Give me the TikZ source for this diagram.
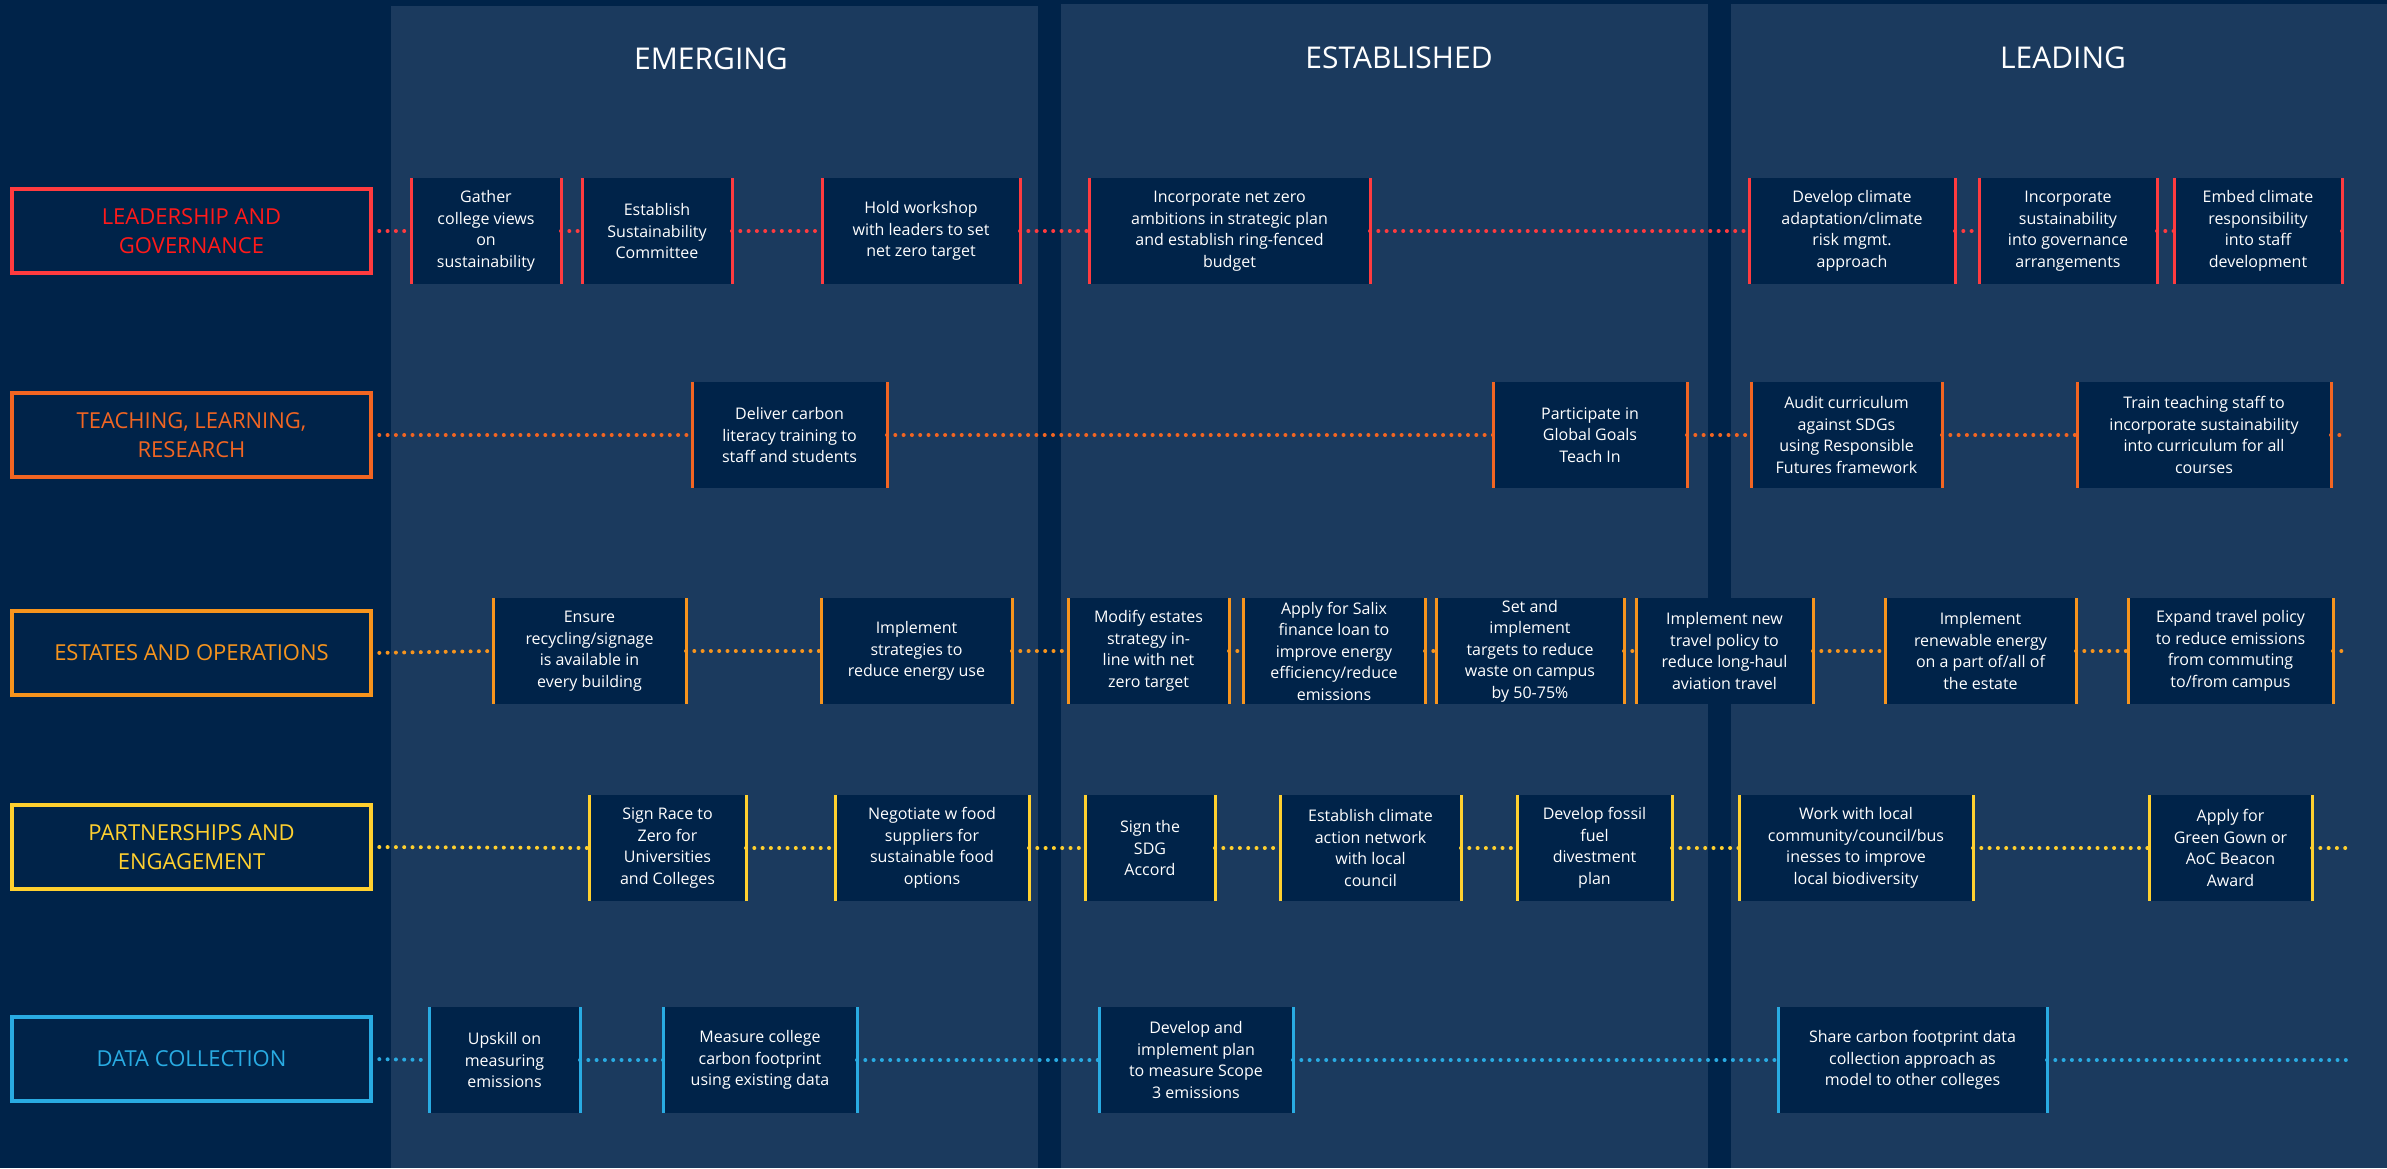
\documentclass[tikz,border=0pt]{standalone}
\usepackage{fontspec}
\setmainfont{Open Sans}
\definecolor{bg}{HTML}{002349}
\definecolor{panel}{HTML}{1B3A5E}
\definecolor{cLG}{HTML}{FF3B3F}
\definecolor{cLGt}{HTML}{FF1A1A}
\definecolor{cTL}{HTML}{F26522}
\definecolor{cEO}{HTML}{F7941D}
\definecolor{cPE}{HTML}{FFD02F}
\definecolor{cDC}{HTML}{29ABE2}
\tikzset{
  actbox/.style={fill=bg, text=white, inner sep=0pt, outer sep=0pt, minimum height=106,
    align=center, font=\fontsize{16}{21.5}\selectfont},
  sideedge/.style={line width=3pt},
  catbox/.style={draw=#1, line width=3.5pt, fill=bg, inner sep=0pt, outer sep=0pt,
    minimum width=359, minimum height=84, align=center, font=\fontsize{22}{29}\selectfont},
  dotcon/.style={#1, line width=4pt, line cap=round, dash pattern=on 0pt off 8.3pt},
  colhead/.style={text=white, font=\fontsize{30}{36}\selectfont},
}
\newcommand\abox[6]{%
  \node[actbox, minimum width={#3-#2}] (#1) at ({(#2+#3)/2},#4) {#6};
  \draw[#5, sideedge] (#1.north west) -- (#1.south west) (#1.north east) -- (#1.south east);
}
\begin{document}
\begin{tikzpicture}[x=1pt,y=-1pt]
\fill[bg] (0,0) rectangle (2387,1168);
\useasboundingbox (0,0) rectangle (2387,1168);
% column panels
\fill[panel] (391,6) rectangle (1038,1168);
\fill[panel] (1061,4) rectangle (1708,1168);
\fill[panel] (1731,4) rectangle (2387,1168);
\node[colhead] (hEm) at (711,59) {EMERGING};
\node[colhead] (hEs) at (1399,58) {ESTABLISHED};
\node[colhead] (hLe) at (2063,58) {LEADING};

% category boxes
\node[catbox=cLG, text=cLGt] (L1) at (191.5,231) {LEADERSHIP AND\\GOVERNANCE};
\node[catbox=cTL, text=cTL] (L2) at (191.5,435) {TEACHING, LEARNING,\\RESEARCH};
\node[catbox=cEO, text=cEO] (L3) at (191.5,653) {ESTATES AND OPERATIONS};
\node[catbox=cPE, text=cPE] (L4) at (191.5,847) {PARTNERSHIPS AND\\ENGAGEMENT};
\node[catbox=cDC, text=cDC] (L5) at (191.5,1059) {DATA COLLECTION};

% row 1: leadership and governance
\abox{g1}{411}{561}{231}{cLG}{Gather\\college views\\on\\sustainability}
\abox{g2}{582}{732}{231}{cLG}{Establish\\Sustainability\\Committee}
\abox{g3}{822}{1020}{231}{cLG}{Hold workshop\\with leaders to set\\net zero target}
\abox{g4}{1089}{1370}{231}{cLG}{Incorporate net zero\\ambitions in strategic plan\\and establish ring-fenced\\budget}
\abox{g5}{1749}{1955}{231}{cLG}{Develop climate\\adaptation/climate\\risk mgmt.\\approach}
\abox{g6}{1979}{2157}{231}{cLG}{Incorporate\\sustainability\\into governance\\arrangements}
\abox{g7}{2174}{2342}{231}{cLG}{Embed climate\\responsibility\\into staff\\development}
\coordinate (g8) at (2346,231);
\draw[dotcon=cLG] (L1.east) -- (g1.west) (g1.east) -- (g2.west) (g2.east) -- (g3.west)
  (g3.east) -- (g4.west) (g4.east) -- (g5.west) (g5.east) -- (g6.west) (g6.east) -- (g7.west)
  (g7.east) -- (g8);

% row 2: teaching, learning, research
\abox{t1}{692}{887}{435}{cTL}{Deliver carbon\\literacy training to\\staff and students}
\abox{t2}{1493}{1687}{435}{cTL}{Participate in\\Global Goals\\Teach In}
\abox{t3}{1751}{1942}{435}{cTL}{Audit curriculum\\against SDGs\\using Responsible\\Futures framework}
\abox{t4}{2077}{2331}{435}{cTL}{Train teaching staff to\\incorporate sustainability\\into curriculum for all\\courses}
\coordinate (t5) at (2346,435);
\draw[dotcon=cTL] (L2.east) -- (t1.west) (t1.east) -- (t2.west) (t2.east) -- (t3.west)
  (t3.east) -- (t4.west) (t4.east) -- (t5);

% row 3: estates and operations
\abox{e1}{493}{686}{651}{cEO}{Ensure\\recycling/signage\\is available in\\every building}
\abox{e2}{821}{1012}{651}{cEO}{Implement\\strategies to\\reduce energy use}
\abox{e3}{1068}{1229}{651}{cEO}{Modify estates\\strategy in-\\line with net\\zero target}
\abox{e4}{1243}{1425}{651}{cEO}{Apply for Salix\\finance loan to\\improve energy\\efficiency/reduce\\emissions}
\abox{e5}{1436}{1624}{651}{cEO}{Set and\\implement\\targets to reduce\\waste on campus\\by 50-75\%}
\abox{e6}{1636}{1813}{651}{cEO}{Implement new\\travel policy to\\reduce long-haul\\aviation travel}
\abox{e7}{1885}{2076}{651}{cEO}{Implement\\renewable energy\\on a part of/all of\\the estate}
\abox{e8}{2128}{2333}{651}{cEO}{Expand travel policy\\to reduce emissions\\from commuting\\to/from campus}
\coordinate (e9) at (2346,651);
\draw[dotcon=cEO] (L3.east) -- (e1.west) (e1.east) -- (e2.west) (e2.east) -- (e3.west)
  (e3.east) -- (e4.west) (e4.east) -- (e5.west) (e5.east) -- (e6.west) (e6.east) -- (e7.west)
  (e7.east) -- (e8.west) (e8.east) -- (e9);

% row 4: partnerships and engagement
\abox{p1}{589}{746}{848}{cPE}{Sign Race to\\Zero for\\Universities\\and Colleges}
\abox{p2}{835}{1029}{848}{cPE}{Negotiate w food\\suppliers for\\sustainable food\\options}
\abox{p3}{1085}{1215}{848}{cPE}{Sign the\\SDG\\Accord}
\abox{p4}{1280}{1461}{848}{cPE}{Establish climate\\action network\\with local\\council}
\abox{p5}{1517}{1672}{848}{cPE}{Develop fossil\\fuel\\divestment\\plan}
\abox{p6}{1739}{1973}{848}{cPE}{Work with local\\community/council/bus\\inesses to improve\\local biodiversity}
\abox{p7}{2149}{2312}{848}{cPE}{Apply for\\Green Gown or\\AoC Beacon\\Award}
\coordinate (p8) at (2346,848);
\draw[dotcon=cPE] (L4.east) -- (p1.west) (p1.east) -- (p2.west) (p2.east) -- (p3.west)
  (p3.east) -- (p4.west) (p4.east) -- (p5.west) (p5.east) -- (p6.west) (p6.east) -- (p7.west)
  (p7.east) -- (p8);

% row 5: data collection
\abox{d1}{429}{580}{1060}{cDC}{Upskill on\\measuring\\emissions}
\abox{d2}{663}{857}{1060}{cDC}{Measure college\\carbon footprint\\using existing data}
\abox{d3}{1099}{1293}{1060}{cDC}{Develop and\\implement plan\\to measure Scope\\3 emissions}
\abox{d4}{1778}{2047}{1060}{cDC}{Share carbon footprint data\\collection approach as\\model to other colleges}
\coordinate (d5) at (2346,1060);
\draw[dotcon=cDC] (L5.east) -- (d1.west) (d1.east) -- (d2.west) (d2.east) -- (d3.west)
  (d3.east) -- (d4.west) (d4.east) -- (d5);
\end{tikzpicture}
\end{document}
